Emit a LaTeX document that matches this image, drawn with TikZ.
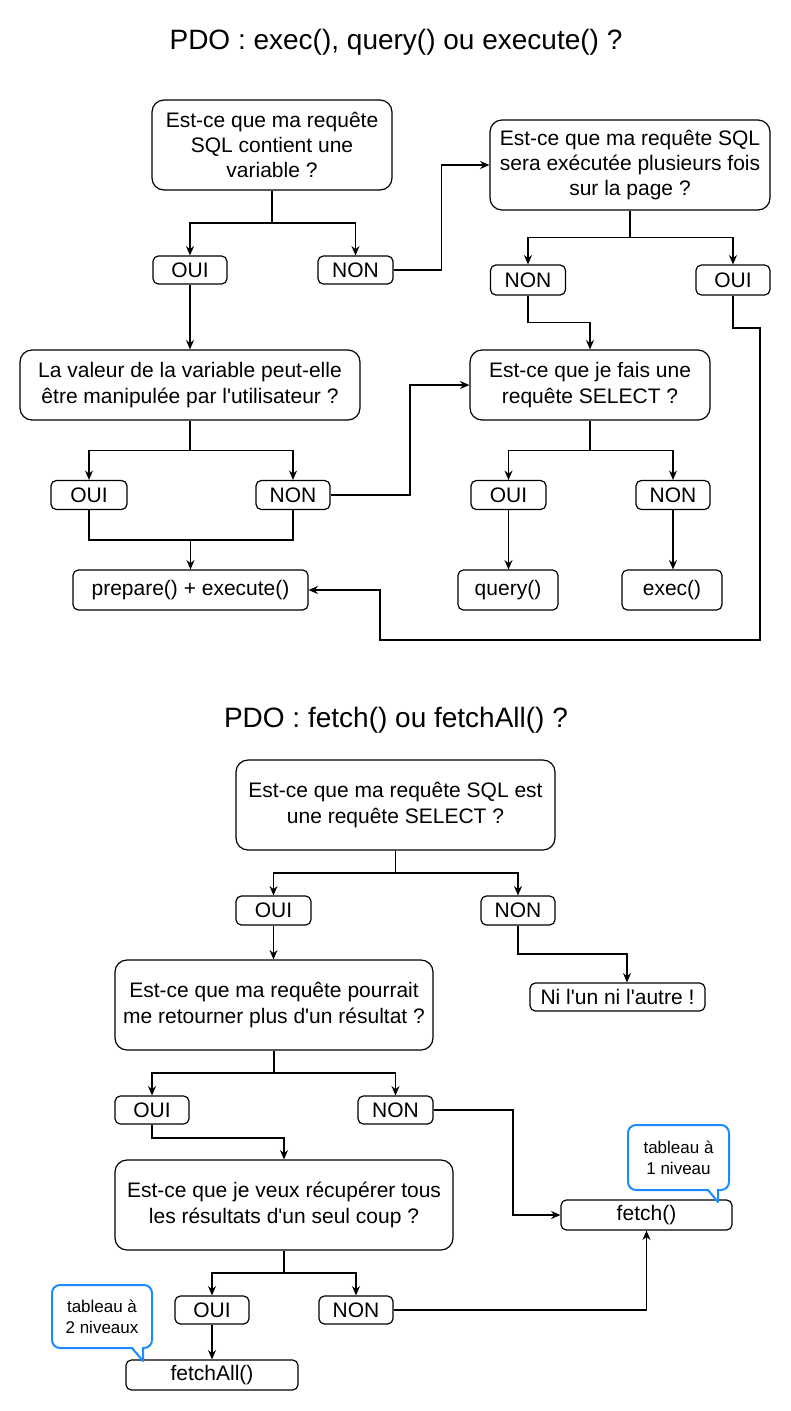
\documentclass[tikz,border=0pt]{standalone}
\usepackage{fontspec}
\setmainfont{Liberation Sans}
\usetikzlibrary{arrows.meta,calc}
\definecolor{callblue}{HTML}{1A8CFF}
\newcommand{\apo}{\textquotesingle}
\begin{document}
\begin{tikzpicture}[x=0.75pt,y=-0.75pt,
  sz/.style 2 args={minimum width=#1*0.75pt, minimum height=#2*0.75pt},
  big/.style={draw, line width=0.9pt, rounded corners=9pt, align=center, inner sep=0pt, font=\fontsize{15.75}{19}\selectfont},
  small/.style={draw, line width=0.9pt, rounded corners=4pt, align=center, inner sep=0pt, font=\fontsize{15.75}{19}\selectfont},
  ttl/.style={font=\fontsize{21}{25}\selectfont, inner sep=0pt},
  arr/.style={line width=0.9pt, -{Stealth[length=7pt,width=6pt]}},
  ln/.style={line width=0.9pt},
  callout/.style={draw=callblue, line width=1.5pt, rounded corners=6pt, fill=white, align=center, inner sep=0pt, font=\fontsize{12.75}{16}\selectfont},
  ptr/.style={draw=callblue, line width=1.5pt, line join=round}
]
\fill[white] (0,0) rectangle (791,1411);
\useasboundingbox (0,0) rectangle (791,1411);

% ---------- Part 1 ----------
\node[ttl] (t1) at (396,42) {PDO : exec(), query() ou execute() ?};

\node[big, sz={240}{90}] (A) at (272,145) {Est-ce que ma requête\\SQL contient une\\variable ?};
\node[small, sz={74}{28}] (oui1) at (190,270) {OUI};
\node[small, sz={75}{28}] (non1) at (355.5,270) {NON};
\node[big, sz={280}{90}] (B) at (630,165) {Est-ce que ma requête SQL\\sera exécutée plusieurs fois\\sur la page ?};
\node[small, sz={75}{30}] (non2) at (528,280) {NON};
\node[small, sz={74}{30}] (oui2) at (733,280) {OUI};
\node[big, sz={340}{70}] (C) at (190,385) {La valeur de la variable peut-elle\\être manipulée par l\apo{}utilisateur ?};
\node[big, sz={240}{70}] (D) at (590,385) {Est-ce que je fais une\\requête SELECT ?};
\node[small, sz={76}{29}] (oui3) at (89,495) {OUI};
\node[small, sz={74}{29}] (non3) at (293,495) {NON};
\node[small, sz={75}{29}] (oui4) at (508.5,495) {OUI};
\node[small, sz={74}{29}] (non4) at (673,495) {NON};
\node[small, sz={235}{40}] (prep) at (190.5,590) {prepare() + execute()};
\node[small, sz={100}{40}] (query) at (508,590) {query()};
\node[small, sz={100}{40}] (exec) at (672,590) {exec()};

\coordinate (r1) at (760,328);
\coordinate (r2) at (380,640);
\coordinate (k1) at (410,0);
\coordinate (jn) at (190.5,540);

\draw[arr] (A.south) |- ($(A.south)!0.5!(oui1.north)$) -| (oui1.north);
\draw[arr] (A.south) |- ($(A.south)!0.5!(non1.north)$) -| (non1.north);
\draw[arr] (non1.east) -| ($(non1.east)!0.5!(B.west)$) |- (B.west);
\draw[arr] (B.south) |- ($(B.south)!0.5!(non2.north)$) -| (non2.north);
\draw[arr] (B.south) |- ($(B.south)!0.5!(oui2.north)$) -| (oui2.north);
\draw[arr] (non2.south) |- ($(non2.south)!0.5!(D.north)$) -| (D.north);
\draw[arr] (oui2.south) |- (r1) |- (r2) |- (prep.east);
\draw[arr] (oui1.south) -- (C.north);
\draw[arr] (C.south) |- ($(C.south)!0.5!(oui3.north)$) -| (oui3.north);
\draw[arr] (C.south) |- ($(C.south)!0.5!(non3.north)$) -| (non3.north);
\draw[arr] (non3.east) -- (non3.east -| k1) |- (D.west);
\draw[ln] (oui3.south) |- (jn);
\draw[ln] (non3.south) |- (jn);
\draw[arr] (jn) -- (prep.north);
\draw[arr] (D.south) |- ($(D.south)!0.5!(oui4.north)$) -| (oui4.north);
\draw[arr] (D.south) |- ($(D.south)!0.5!(non4.north)$) -| (non4.north);
\draw[arr] (oui4.south) -- (oui4.south |- query.north);
\draw[arr] (non4.south) -- (non4.south |- exec.north);

% ---------- Part 2 ----------
\node[ttl] (t2) at (396,720) {PDO : fetch() ou fetchAll() ?};

\node[big, sz={319}{90}] (E) at (395.5,805) {Est-ce que ma requête SQL est\\une requête SELECT ?};
\node[small, sz={75}{29}] (oui5) at (273.5,910.5) {OUI};
\node[small, sz={74}{29}] (non5) at (518,910.5) {NON};
\node[small, sz={175}{28}] (ni) at (617.5,997) {Ni l\apo{}un ni l\apo{}autre !};
\node[big, sz={318}{90}] (F) at (274,1005) {Est-ce que ma requête pourrait\\me retourner plus d\apo{}un résultat ?};
\node[small, sz={74}{28}] (oui6) at (152,1110) {OUI};
\node[small, sz={75}{28}] (non6) at (395.5,1110) {NON};
\node[big, sz={338}{90}] (G) at (284,1205) {Est-ce que je veux récupérer tous\\les résultats d\apo{}un seul coup ?};
\node[small, sz={171}{30}] (fetch) at (646.5,1215) {fetch()};
\node[small, sz={74}{28}] (oui7) at (212,1310) {OUI};
\node[small, sz={74}{28}] (non7) at (356,1310) {NON};
\node[small, sz={172}{30}] (fetchall) at (212,1375) {fetchAll()};

\coordinate (k2) at (513,0);
\coordinate (m6) at (0,1138);
\coordinate (k3) at (627,0);

\draw[arr] (E.south) |- ($(E.south)!0.5!(oui5.north)$) -| (oui5.north);
\draw[arr] (E.south) |- ($(E.south)!0.5!(non5.north)$) -| (non5.north);
\draw[arr] (non5.south) |- ($(non5.south)!0.5!(ni.north)$) -| (ni.north -| k3);
\draw[arr] (oui5.south) -- (oui5.south |- F.north);
\draw[arr] (F.south) |- ($(F.south)!0.5!(oui6.north)$) -| (oui6.north);
\draw[arr] (F.south) |- ($(F.south)!0.5!(non6.north)$) -| (non6.north);
\draw[arr] (non6.east) -- (non6.east -| k2) |- (fetch.west);
\draw[arr] (oui6.south) |- (oui6.south |- m6) -| (G.north);
\draw[arr] (G.south) |- ($(G.south)!0.5!(oui7.north)$) -| (oui7.north);
\draw[arr] (G.south) |- ($(G.south)!0.5!(non7.north)$) -| (non7.north);
\draw[arr] (non7.east) -| (fetch.south);
\draw[arr] (oui7.south) -- (fetchall.north);

% ---------- Callouts ----------
\node[callout, sz={101}{65}] (c2) at (678.5,1157.5) {tableau à\\1 niveau};
\fill[white] (709,1187) rectangle (717,1193);
\draw[ptr] (708,1190) -- (718,1202) -- (718,1190);

\node[callout, sz={100}{63}] (c1) at (102,1316.5) {tableau à\\2 niveaux};
\fill[white] (133,1345) rectangle (142,1351);
\draw[ptr] (132,1348) -- (143,1361) -- (143,1348);
\end{tikzpicture}
\end{document}
